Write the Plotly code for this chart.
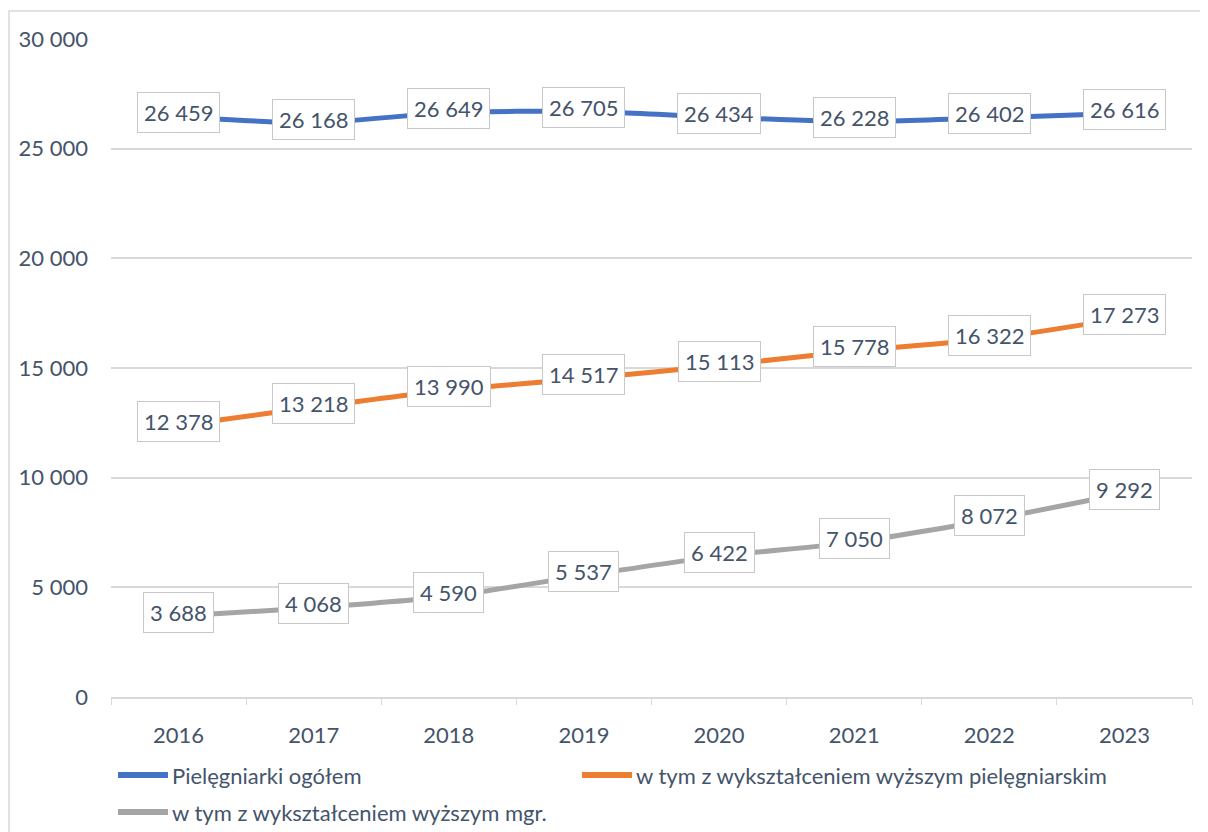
import plotly.graph_objects as go

years = ["2016", "2017", "2018", "2019", "2020", "2021", "2022", "2023"]
ogolem = [26459, 26168, 26649, 26705, 26434, 26228, 26402, 26616]
piel = [12378, 13218, 13990, 14517, 15113, 15778, 16322, 17273]
mgr = [3688, 4068, 4590, 5537, 6422, 7050, 8072, 9292]
names = ["Pielęgniarki ogółem",
         "w tym z wykształceniem wyższym pielęgniarskim",
         "w tym z wykształceniem wyższym mgr."]
colors = ["#4472C4", "#ED7D31", "#A5A5A5"]
y_ticks = [0, 5000, 10000, 15000, 20000, 25000, 30000]

TXT = "#44546A"
FONT = "Lato, 'Open Sans', sans-serif"

OFF = 8  # page body margin
W, H = 1208 - OFF, 832 - OFF
ML, MR, MT, MB = 111 - OFF, 16, 39 - OFF, 135
PW, PH = W - ML - MR, H - MT - MB

def px_x(p):  # page pixel -> paper
    return (p - OFF - ML) / PW

def px_y(p):
    return (OFF + H - MB - p) / PH

def fmt(v):
    return f"{v:,}".replace(",", " ")

fig = go.Figure()
for vals, name, col in zip([ogolem, piel, mgr], names, colors):
    fig.add_trace(go.Scatter(
        x=years, y=vals, name=name, mode="lines",
        line=dict(color=col, width=5, shape="spline", smoothing=0.5),
        hoverinfo="skip", showlegend=False))

annotations = []
for vals in [ogolem, piel, mgr]:
    for i, v in enumerate(vals):
        annotations.append(dict(
            x=i, y=v, xref="x", yref="y", text=fmt(v), showarrow=False,
            yshift=4, font=dict(family=FONT, size=22, color=TXT),
            bgcolor="white", bordercolor="#C8C8C8", borderwidth=1, borderpad=6))

legend_pos = [(118, 775), (582, 775), (118, 812)]
shapes = [dict(type="rect", xref="paper", yref="paper",
               x0=px_x(9), x1=1.2, y0=-0.3, y1=px_y(11),
               line=dict(color="#D9D9D9", width=1.5), layer="below")]
for (lx, ly), name, col in zip(legend_pos, names, colors):
    shapes.append(dict(type="line", xref="paper", yref="paper",
                       x0=px_x(lx), x1=px_x(lx + 50), y0=px_y(ly), y1=px_y(ly),
                       line=dict(color=col, width=6)))
    annotations.append(dict(x=px_x(lx + 52), y=px_y(ly), xref="paper", yref="paper",
                            text=name, showarrow=False, xanchor="left", yanchor="middle",
                            font=dict(family=FONT, size=22, color=TXT)))

fig.update_layout(
    width=W, height=H,
    margin=dict(l=ML, r=MR, t=MT, b=MB),
    paper_bgcolor="white", plot_bgcolor="white",
    separators=", ",
    font=dict(family=FONT, size=22, color=TXT),
    annotations=annotations,
    showlegend=False,
    shapes=shapes,
)
fig.update_xaxes(type="category", range=[-0.5, 7.5], showgrid=False, showline=True,
                 linecolor="#D9D9D9", linewidth=1.5, ticks="outside",
                 tickson="boundaries", ticklen=6, tickcolor="#D9D9D9",
                 ticklabelstandoff=18, automargin=False, tickangle=0,
                 tickfont=dict(family=FONT, size=22, color=TXT), fixedrange=True)
fig.update_yaxes(range=[0, 30000], tickvals=y_ticks, tickformat=",d", showgrid=True,
                 gridcolor="#D9D9D9", gridwidth=1.5, zeroline=False, showline=False,
                 ticklabelstandoff=22, automargin=False,
                 tickfont=dict(family=FONT, size=22, color=TXT), fixedrange=True)

fig.write_html("out.html")
